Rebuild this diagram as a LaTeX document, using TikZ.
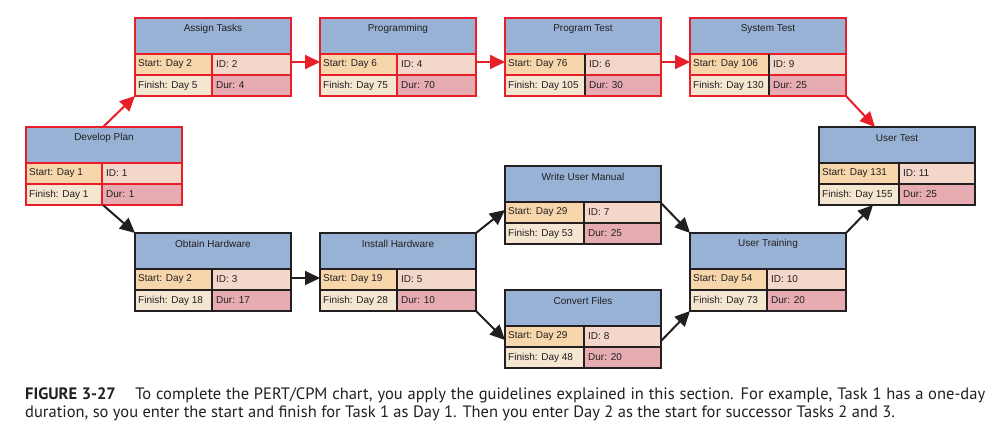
\documentclass[tikz,border=0pt]{standalone}
\usepackage{fontspec}
\setmainfont{Liberation Sans}
\newfontfamily\capfont{PT Sans}
\usetikzlibrary{arrows.meta}
\definecolor{ctitle}{HTML}{98B2D6}
\definecolor{cstart}{HTML}{F6D6AA}
\definecolor{cid}{HTML}{F4D7CB}
\definecolor{cfin}{HTML}{F4E6D0}
\definecolor{cdur}{HTML}{E6ACB2}
\definecolor{boxred}{HTML}{E81E28}
\definecolor{boxblack}{HTML}{231F20}
\tikzset{
  tbox/.style={minimum width=156pt,minimum height=78pt,inner sep=0pt,outer sep=0pt,line width=2pt},
  cell/.style={anchor=west,inner sep=0pt,font=\fontsize{10}{11}\selectfont,text=boxblack},
  ttl/.style={inner sep=0pt,font=\fontsize{10}{11}\selectfont,text=boxblack},
  redarrow/.style={draw=boxred,line width=2pt,-{Triangle[length=15pt,width=14pt]},fill=boxred},
  blkarrow/.style={draw=boxblack,line width=2pt,-{Triangle[length=15pt,width=14pt]},fill=boxblack},
  captext/.style={anchor=base west,inner sep=0pt,font=\capfont\fontsize{16.5}{18}\selectfont,text=boxblack}
}
\def\sw{77}
\def\splitc{boxred}
\newcommand\pertbox[9]{%
  \begin{scope}[shift={(#2,#3)}]
    \fill[ctitle] (0,0) rectangle (156,36);
    \fill[cstart] (0,36) rectangle (\sw,57);
    \fill[cid] (\sw,36) rectangle (156,57);
    \fill[cfin] (0,57) rectangle (\sw,78);
    \fill[cdur] (\sw,57) rectangle (156,78);
    \draw[line width=2pt,draw=#9] (0,36) -- (156,36) (0,57) -- (156,57);
    \draw[line width=2pt,draw=\splitc] (\sw,36) -- (\sw,78);
    \node[ttl] at (78,11) {#4};
    \node[cell] at (3,46.5) {#5};
    \node[cell] at ({\sw+4},46.5) {#6};
    \node[cell] at (3,67.5) {#7};
    \node[cell] at ({\sw+4},67.5) {#8};
  \end{scope}
  \node[tbox,draw=#9,anchor=north west] (#1) at (#2,#3) {};
}
\begin{document}
\begin{tikzpicture}[x=1pt,y=-1pt]
\useasboundingbox[fill=white] (0,0) rectangle (1008,429);
% red (critical path) boxes
\def\sw{76}\def\splitc{boxred}
\pertbox{dev}{26}{127}{Develop Plan}{Start: Day 1}{ID: 1}{Finish: Day 1}{Dur: 1}{boxred}
\def\sw{77}
\pertbox{assign}{135}{18}{Assign Tasks}{Start: Day 2}{ID: 2}{Finish: Day 5}{Dur: 4}{boxred}
\pertbox{prog}{320}{18}{Programming}{Start: Day 6}{ID: 4}{Finish: Day 75}{Dur: 70}{boxred}
\def\sw{80}\def\splitc{boxblack}
\pertbox{ptest}{505}{18}{Program Test}{Start: Day 76}{ID: 6}{Finish: Day 105}{Dur: 30}{boxred}
\def\sw{79}
\pertbox{stest}{690}{18}{System Test}{Start: Day 106}{ID: 9}{Finish: Day 130}{Dur: 25}{boxred}
% black boxes
\def\sw{80}\def\splitc{boxblack}
\pertbox{utest}{819}{127}{User Test}{Start: Day 131}{ID: 11}{Finish: Day 155}{Dur: 25}{boxblack}
\def\sw{77}
\pertbox{obtain}{135}{233}{Obtain Hardware}{Start: Day 2}{ID: 3}{Finish: Day 18}{Dur: 17}{boxblack}
\pertbox{install}{320}{233}{Install Hardware}{Start: Day 19}{ID: 5}{Finish: Day 28}{Dur: 10}{boxblack}
\def\sw{79}
\pertbox{wum}{505}{166}{Write User Manual}{Start: Day 29}{ID: 7}{Finish: Day 53}{Dur: 25}{boxblack}
\pertbox{convert}{505}{290}{Convert Files}{Start: Day 29}{ID: 8}{Finish: Day 48}{Dur: 20}{boxblack}
\def\sw{77}
\pertbox{utrain}{690}{233}{User Training}{Start: Day 54}{ID: 10}{Finish: Day 73}{Dur: 20}{boxblack}
% connectors
\draw[redarrow] ([xshift=77pt]dev.north west) -- (assign.south west);
\draw[redarrow] ([yshift=-44pt]assign.north east) -- ([yshift=-44pt]prog.north west);
\draw[redarrow] ([yshift=-44pt]prog.north east) -- ([yshift=-44pt]ptest.north west);
\draw[redarrow] ([yshift=-44pt]ptest.north east) -- ([yshift=-44pt]stest.north west);
\draw[redarrow] (stest.south east) -- ([xshift=56pt]utest.north west);
\draw[blkarrow] ([xshift=77pt]dev.south west) -- (obtain.north west);
\draw[blkarrow] ([yshift=-45pt]obtain.north east) -- ([yshift=-45pt]install.north west);
\draw[blkarrow] (install.north east) -- ([yshift=-44pt]wum.north west);
\draw[blkarrow] (install.south east) -- ([yshift=-50pt]convert.north west);
\draw[blkarrow] ([yshift=-37pt]wum.north east) -- (utrain.north west);
\draw[blkarrow] ([yshift=-51pt]convert.north east) -- (utrain.south west);
\draw[blkarrow] (utrain.north east) -- ([xshift=54pt]utest.south west);
% caption
\node[captext] (cap1) at (25,399)
  {\makebox[960pt][s]{\textbf{FIGURE 3-27}\hspace{0.9em} To complete the PERT/CPM chart, you apply the guidelines explained in this section. For example, Task 1 has a one-day}};
\node[captext] (cap2) at (25,417)
  {duration, so you enter the start and finish for Task 1 as Day 1. Then you enter Day 2 as the start for successor Tasks 2 and 3.};
\end{tikzpicture}
\end{document}
